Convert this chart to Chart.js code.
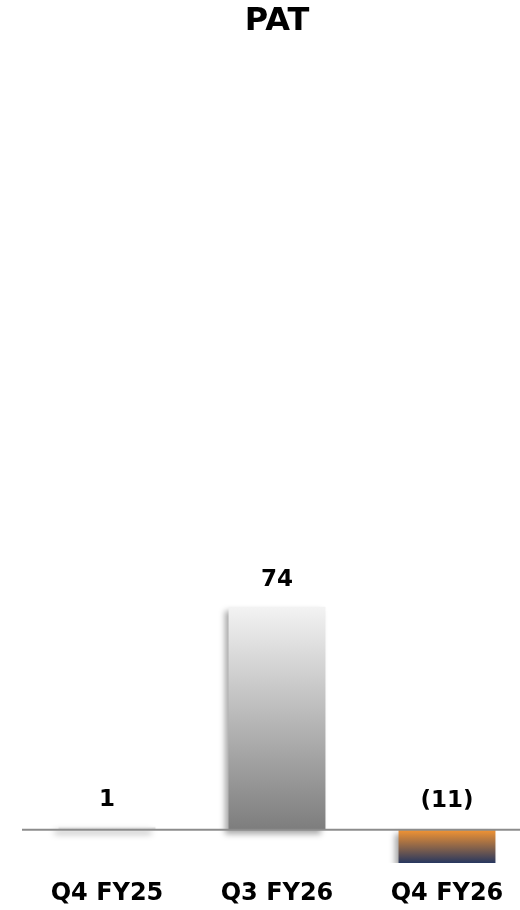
<!DOCTYPE html>
<html>
<head>
<meta charset="utf-8">
<script src="https://cdn.jsdelivr.net/npm/chart.js@4.4.1/dist/chart.umd.min.js"></script>
<style>
  html, body { margin: 0; padding: 0; background: #fff; overflow: hidden; }
  #wrap { width: 532px; height: 910px; }
</style>
</head>
<body>
<div id="wrap"><canvas id="patChart" width="532" height="910"></canvas></div>
<script>
// podaci s grafa
const categories = ['Q4 FY25', 'Q3 FY26', 'Q4 FY26'];
const patValues = [1, 74, -11];
const valueLabels = ['1', '74', '(11)'];
const topColors = ['#efefef', '#f3f3f3', '#f39433'];
const bottomColors = ['#cfcfcf', '#7d7d7d', '#27375f'];

function barFill(c) {
  const chart = c.chart;
  const { ctx, chartArea, scales } = chart;
  if (!chartArea) return topColors[c.dataIndex];
  const v = patValues[c.dataIndex];
  const y0 = scales.y.getPixelForValue(0);
  const y1 = scales.y.getPixelForValue(v);
  const g = ctx.createLinearGradient(0, Math.min(y0, y1), 0, Math.max(y0, y1) + 0.1);
  g.addColorStop(0, topColors[c.dataIndex]);
  g.addColorStop(1, bottomColors[c.dataIndex]);
  return g;
}

// sjena ispod stupaca
const shadowPlugin = {
  id: 'shadow',
  beforeDatasetsDraw(chart) {
    const ctx = chart.ctx;
    ctx.save();
    ctx.shadowColor = 'rgba(0,0,0,0.35)';
    ctx.shadowBlur = 6;
    ctx.shadowOffsetX = -4;
    ctx.shadowOffsetY = 4;
  },
  afterDatasetsDraw(chart) {
    chart.ctx.restore();
  }
};

// nulta linija + oznake vrijednosti
const labelPlugin = {
  id: 'valLabels',
  afterDraw(chart) {
    const { ctx, chartArea, scales } = chart;
    const y0 = scales.y.getPixelForValue(0);
    ctx.save();
    ctx.strokeStyle = '#8c8c8c';
    ctx.lineWidth = 2;
    ctx.beginPath();
    ctx.moveTo(chartArea.left, y0);
    ctx.lineTo(chart.width, y0);
    ctx.stroke();

    ctx.font = 'bold 23px "DejaVu Sans"';
    ctx.fillStyle = '#000';
    ctx.textAlign = 'center';
    ctx.textBaseline = 'middle';
    const meta = chart.getDatasetMeta(0);
    meta.data.forEach((bar, i) => {
      const v = patValues[i];
      const y = v >= 0 ? scales.y.getPixelForValue(v) - 27 : y0 - 29;
      ctx.fillText(valueLabels[i], bar.x, y);
    });
    ctx.restore();
  }
};

new Chart(document.getElementById('patChart').getContext('2d'), {
  type: 'bar',
  data: {
    labels: categories,
    datasets: [{
      label: 'PAT',
      data: patValues,
      backgroundColor: barFill,
      borderWidth: 0,
      categoryPercentage: 1,
      barPercentage: 0.57
    }]
  },
  options: {
    responsive: false,
    animation: false,
    layout: { padding: { left: 22, right: 0, top: 0, bottom: 0 } },
    plugins: {
      legend: { display: false },
      tooltip: { enabled: false },
      title: {
        display: true,
        text: 'PAT',
        color: '#000',
        font: { family: 'DejaVu Sans', size: 32, weight: 'bold' },
        padding: { top: 2, bottom: 36 }
      }
    },
    scales: {
      x: {
        grid: { display: false, drawTicks: false },
        border: { display: false },
        afterFit(scale) { scale.height = 47; },
        ticks: {
          color: '#000',
          padding: 16,
          font: { family: 'DejaVu Sans', size: 24, weight: 'bold' }
        }
      },
      y: {
        display: false,
        min: -11,
        max: 250
      }
    }
  },
  plugins: [shadowPlugin, labelPlugin]
});
</script>
</body>
</html>
